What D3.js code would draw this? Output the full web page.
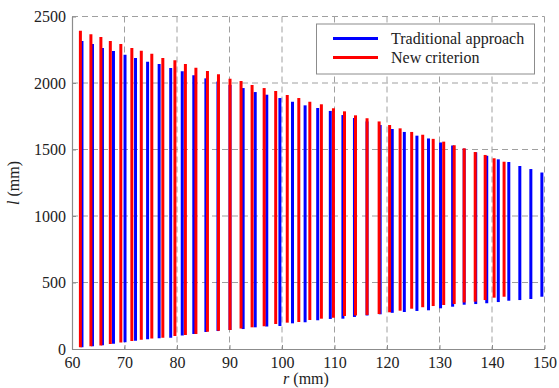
<!DOCTYPE html>
<html>
<head>
<meta charset="utf-8">
<script src="https://cdn.jsdelivr.net/npm/d3@7"></script>
<style>
  body { margin: 0; background: #fff; }
  svg { display: block; }
</style>
</head>
<body>
<svg id="chart" width="559" height="388"></svg>
<script>
// 传统方法 (blue)
var blueR = [61.9, 63.9, 65.8, 67.9, 70.1, 72.1, 74.4, 76.6, 78.8, 81.0,
             83.2, 85.5, 87.8, 90.1, 92.6, 94.9, 97.1, 99.6, 102.0, 104.4,
             106.8, 109.2, 111.6, 113.8, 116.2, 118.7, 121.0, 123.3, 125.7, 127.9,
             130.2, 132.5, 134.7, 136.9, 139.0, 141.2, 143.2, 145.3, 147.4, 149.5];
var blueTop = [2316, 2293, 2263, 2241, 2213, 2188, 2160, 2143, 2113, 2088,
               2058, 2035, 2011, 1985, 1962, 1932, 1912, 1887, 1859, 1832,
               1812, 1790, 1759, 1737, 1711, 1684, 1654, 1632, 1604, 1583,
               1553, 1530, 1506, 1479, 1453, 1426, 1406, 1376, 1353, 1327];
var blueBottom = [13, 20, 28, 40, 50, 62, 73, 80, 85, 102,
                  113, 128, 135, 143, 150, 163, 169, 173, 193, 201,
                  216, 226, 228, 241, 252, 261, 272, 278, 286, 291,
                  306, 318, 333, 338, 344, 353, 363, 368, 376, 393];

// 新判据 (red)
var redR = [61.6, 63.6, 65.5, 67.3, 69.3, 71.4, 73.2, 75.2, 77.3, 79.6,
            81.6, 83.6, 85.8, 87.9, 90.1, 92.2, 94.3, 96.6, 98.8, 101.0,
            103.2, 105.3, 107.5, 109.8, 111.9, 114.0, 116.2, 118.5, 120.5, 122.5,
            124.7, 126.8, 128.8, 130.8, 132.8, 134.7, 136.8, 138.7, 140.4, 142.3];
var redTop = [2393, 2366, 2346, 2316, 2293, 2263, 2243, 2220, 2188, 2171,
              2143, 2115, 2090, 2065, 2032, 2015, 1985, 1962, 1940, 1910,
              1887, 1859, 1840, 1810, 1787, 1757, 1735, 1711, 1684, 1659,
              1632, 1611, 1580, 1559, 1532, 1509, 1481, 1459, 1434, 1408];
var redBottom = [13, 20, 26, 38, 49, 60, 70, 79, 85, 98,
                 105, 113, 130, 138, 143, 154, 163, 171, 188, 198,
                 203, 218, 228, 235, 248, 252, 256, 263, 276, 288,
                 303, 314, 323, 331, 338, 350, 356, 368, 386, 393];

var xTicks = [60, 70, 80, 90, 100, 110, 120, 130, 140, 150];
var yTicks = [0, 500, 1000, 1500, 2000, 2500];
var legendNames = ['Traditional approach', 'New criterion'];
var seriesColors = ['#0000ff', '#ff0000'];

var svg = d3.select('#chart');
var font = '"Liberation Serif", "Times New Roman", serif';
var pLeft = 72, pRight = 544.5, pTop = 16.5, pBottom = 349;

var x = d3.scaleLinear().domain([60, 150]).range([pLeft, pRight]);
var y = d3.scaleLinear().domain([0, 2500]).range([pBottom, pTop]);

var g = svg.append('g').attr('font-family', font);

// 网格线
g.append('g').selectAll('line')
    .data(xTicks.slice(1))
    .enter().append('line')
    .attr('x1', function (d) { return x(d); })
    .attr('x2', function (d) { return x(d); })
    .attr('y1', pTop).attr('y2', pBottom)
    .attr('stroke', '#a0a0a0')
    .attr('stroke-width', 1)
    .attr('stroke-dasharray', '6,4');
g.append('g').selectAll('line')
    .data(yTicks.slice(1))
    .enter().append('line')
    .attr('y1', function (d) { return y(d); })
    .attr('y2', function (d) { return y(d); })
    .attr('x1', pLeft).attr('x2', pRight)
    .attr('stroke', '#a0a0a0')
    .attr('stroke-width', 1)
    .attr('stroke-dasharray', '6,4');

// 坐标轴
var xAxis = d3.axisBottom(x).tickValues(xTicks).tickFormat(d3.format('d'))
    .tickSizeInner(-4).tickSizeOuter(0).tickPadding(8);
var yAxis = d3.axisLeft(y).tickValues(yTicks).tickFormat(d3.format('d'))
    .tickSizeInner(-4).tickSizeOuter(0).tickPadding(6);

var gx = g.append('g').attr('transform', 'translate(0,' + pBottom + ')').call(xAxis);
var gy = g.append('g').attr('transform', 'translate(' + pLeft + ',0)').call(yAxis);
[gx, gy].forEach(function (a) {
    a.attr('font-family', font).attr('font-size', 16);
    a.select('.domain').attr('stroke', '#8c8c8c').attr('stroke-width', 1.2);
    a.selectAll('.tick line').attr('stroke', '#8c8c8c');
    a.selectAll('.tick text').attr('fill', '#222');
});

// 竖线
function drawSeries(rs, tops, bots, color) {
    g.append('g').selectAll('line')
        .data(rs)
        .enter().append('line')
        .attr('x1', function (d) { return x(d); })
        .attr('x2', function (d) { return x(d); })
        .attr('y1', function (d, i) { return y(bots[i]); })
        .attr('y2', function (d, i) { return y(tops[i]); })
        .attr('stroke', color)
        .attr('stroke-width', 3);
}
drawSeries(blueR, blueTop, blueBottom, seriesColors[0]);
drawSeries(redR, redTop, redBottom, seriesColors[1]);

// 轴标题
var xl = g.append('text')
    .attr('x', 306).attr('y', 384)
    .attr('text-anchor', 'middle')
    .attr('font-size', 16)
    .attr('fill', '#222');
xl.append('tspan').attr('font-style', 'italic').text('r');
xl.append('tspan').text(' (mm)');

var yl = g.append('text')
    .attr('transform', 'translate(19,183) rotate(-90)')
    .attr('text-anchor', 'middle')
    .attr('font-size', 16)
    .attr('fill', '#222');
yl.append('tspan').attr('font-style', 'italic').text('l');
yl.append('tspan').text(' (mm)');

// 图例
var legend = g.append('g');
legend.append('rect')
    .attr('x', 316.5).attr('y', 24)
    .attr('width', 218).attr('height', 50)
    .attr('fill', '#fff')
    .attr('stroke', '#8c8c8c')
    .attr('stroke-width', 1);
legendNames.forEach(function (name, i) {
    var ly = 38.5 + i * 19;
    legend.append('line')
        .attr('x1', 333).attr('x2', 378)
        .attr('y1', ly).attr('y2', ly)
        .attr('stroke', seriesColors[i])
        .attr('stroke-width', 3);
    legend.append('text')
        .attr('x', 391).attr('y', ly + 5)
        .attr('font-size', 16)
        .attr('fill', '#222')
        .text(name);
});
</script>
</body>
</html>
